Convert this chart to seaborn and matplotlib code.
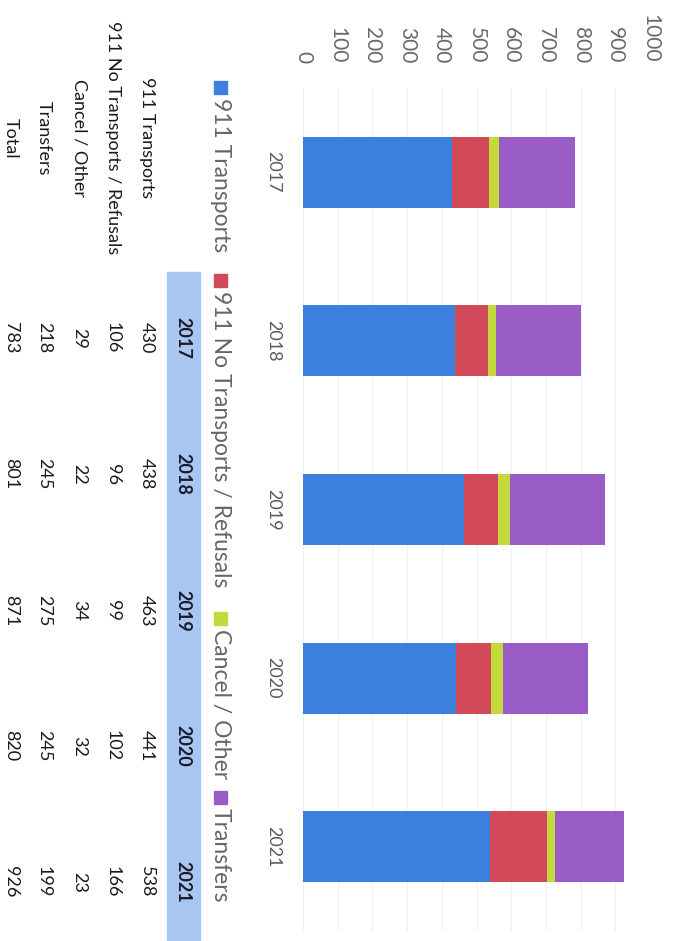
import numpy as np
import pandas as pd
import matplotlib
matplotlib.use("Agg")
import matplotlib.pyplot as plt
import seaborn as sns
from matplotlib.patches import Rectangle

# ---------------- data ----------------
years = ["2017", "2018", "2019", "2020", "2021"]
series_names = ["911 Transports", "911 No Transports / Refusals", "Cancel / Other", "Transfers"]
transports = [430, 438, 463, 441, 538]
no_transports = [106, 96, 99, 102, 166]
cancel_other = [29, 22, 34, 32, 23]
transfers = [218, 245, 275, 245, 199]
totals = [783, 801, 871, 820, 926]
row_labels = ["911 Transports", "911 No Transports / Refusals", "Cancel / Other", "Transfers", "Total"]
value_ticks = [0, 100, 200, 300, 400, 500, 600, 700, 800, 900, 1000]
colors = ["#3b80dc", "#d24a5a", "#c4d93c", "#9a5cc6"]

sns.set_style("white")
plt.rcParams["font.family"] = ["Lato", "DejaVu Sans"]

W, H = 677, 941
fig = plt.figure(figsize=(W / 100, H / 100), dpi=100)


def fx(px):
    return px / W


def fy(py):
    return 1 - py / H


# ---------------- chart (rotated layout) ----------------
ax_left, ax_right, ax_top, ax_bot = 303, 650, 88, 931
ax = fig.add_axes([fx(ax_left), fy(ax_bot), (ax_right - ax_left) / W, (ax_bot - ax_top) / H])

series = [transports, no_transports, cancel_other, transfers]
stack = np.cumsum(np.array(series), axis=0)
for i in reversed(range(len(series))):
    df = pd.DataFrame({"year": years, "value": stack[i]})
    sns.barplot(data=df, x="value", y="year", order=years, orient="h",
                color=colors[i], saturation=1, width=0.42,
                edgecolor="none", linewidth=0, ax=ax, zorder=3)

ax.set_xlim(0, 1000)
ax.set_ylim(len(years) - 0.5, -0.5)
ax.set_xlabel("")
ax.set_ylabel("")
for s in ax.spines.values():
    s.set_visible(False)
ax.xaxis.tick_top()
ax.set_xticks(value_ticks)
ax.set_xticklabels([str(v) for v in value_ticks], rotation=-90, color="#6a6a6a", fontsize=15)
ax.tick_params(axis="x", length=0, pad=18)
ax.set_yticks(range(len(years)))
ax.set_yticklabels(years, rotation=-90, color="#5a5a5a", fontsize=13)
for lab in ax.get_yticklabels():
    lab.set_va("center")
ax.tick_params(axis="y", length=0, pad=16)
ax.grid(axis="x", color="#f1f1f1", linewidth=0.8, zorder=0)
ax.grid(axis="y", visible=False)

# ---------------- legend (rotated, drawn manually) ----------------
leg_x = 220
sq_starts = [81, 274, 612, 791]
for name, col, y0 in zip(series_names, colors, sq_starts):
    fig.patches.append(Rectangle((fx(leg_x - 6.5), fy(y0 + 13)), 13 / W, 13 / H,
                                 transform=fig.transFigure, color=col, figure=fig))
    fig.text(fx(leg_x), fy(y0 + 17), name, rotation=-90, ha="center", va="top",
             fontsize=16.5, color="#666666")

# ---------------- data table (rotated) ----------------
fig.patches.append(Rectangle((fx(167), 0), 33 / W, fy(272), transform=fig.transFigure,
                             color="#a9c6f2", figure=fig, zorder=0))
col_y = [338, 474, 611, 746, 882]
header_x = 183
row_x = [147, 113, 79, 44, 11]
label_y = 138
table_rows = [transports, no_transports, cancel_other, transfers, totals]

for yr, cy in zip(years, col_y):
    fig.text(fx(header_x), fy(cy), yr, rotation=-90, ha="center", va="center",
             fontsize=13, fontweight="bold", color="#1a1a2a")
for lab, rx, vals in zip(row_labels, row_x, table_rows):
    fig.text(fx(rx), fy(label_y), lab, rotation=-90, ha="center", va="center",
             fontsize=13, color="#1a1a1a")
    for v, cy in zip(vals, col_y):
        fig.text(fx(rx), fy(cy), str(v), rotation=-90, ha="center", va="center",
                 fontsize=13, color="#1a1a1a")

fig.savefig("out.png", dpi=100, facecolor="white")
